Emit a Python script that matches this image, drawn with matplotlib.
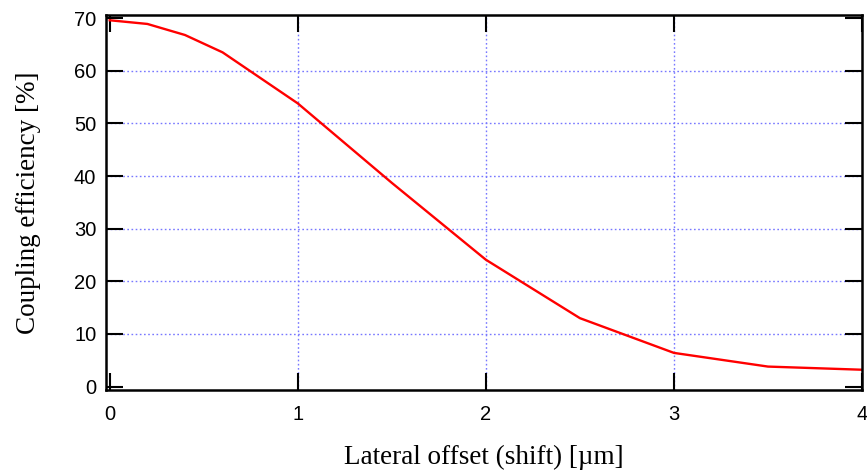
import matplotlib
matplotlib.use("Agg")
import matplotlib.pyplot as plt

# lateral offset [um] and the coupling efficiency [%] at each offset
offset = [0.0, 0.2, 0.4, 0.6, 1.0, 1.5, 2.0, 2.5, 3.0, 3.5, 4.0]
efficiency = [69.6, 68.9, 66.8, 63.5, 53.8, 38.7, 24.1, 13.0, 6.4, 3.8, 3.2]

x_ticks = [0, 1, 2, 3, 4]
y_ticks = [0, 10, 20, 30, 40, 50, 60, 70]

fig = plt.figure(figsize=(8.67, 4.76), dpi=100)
ax = fig.add_axes([106 / 867, 86 / 476, 756 / 867, 375 / 476])

ax.plot(offset, efficiency, color="#ff0000", linewidth=1.7, zorder=3)

ax.set_xlim(-0.02, 4.0)
ax.set_ylim(-0.65, 70.6)
ax.set_xticks(x_ticks)
ax.set_yticks(y_ticks)

# dotted blue grid only on the inner ticks
grid_style = dict(color="#7878ff", linestyle=(0, (1.2, 1.8)), linewidth=1.0, zorder=1)
for xv in x_ticks[1:-1]:
    ax.axvline(xv, **grid_style)
for yv in y_ticks[1:-1]:
    ax.axhline(yv, **grid_style)

for s in ax.spines.values():
    s.set_linewidth(1.8)
    s.set_zorder(4)

ax.tick_params(direction="in", length=12, width=1.5, top=True, right=True,
               labelsize=14.5, colors="black")
ax.tick_params(axis="x", pad=11)
ax.tick_params(axis="y", pad=7)
for lab in ax.get_xticklabels() + ax.get_yticklabels():
    lab.set_fontfamily("Liberation Sans")

ax.set_xlabel("Lateral offset (shift) [\u00b5m]", fontsize=19.5,
              fontfamily="Liberation Serif", labelpad=15)
ax.set_ylabel("Coupling efficiency [%]", fontsize=19.5,
              fontfamily="Liberation Serif", labelpad=23.5)

fig.savefig("out.png", dpi=100)
